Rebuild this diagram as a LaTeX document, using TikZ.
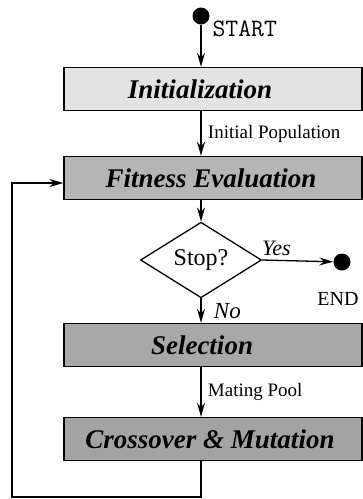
\documentclass[tikz,border=0pt]{standalone}
\usepackage{fontspec}
\setmainfont{Liberation Serif}
\usetikzlibrary{shapes.geometric,arrows.meta}
\tikzset{
  box/.style={draw,line width=1.4pt,minimum width=298pt,minimum height=43pt,inner sep=0pt},
  boxtext/.style={font=\fontsize{27}{27}\selectfont\bfseries\itshape},
  dot/.style={circle,fill=black,minimum size=17pt,inner sep=0pt},
  lbl/.style={font=\fontsize{19}{19}\selectfont},
  arr/.style={-{Stealth[length=14pt,width=8pt]},line width=1.3pt}
}
\begin{document}
\begin{tikzpicture}[x=1pt,y=-1pt]
\useasboundingbox (0,0) rectangle (363,499);
% start and end points
\node[dot] (start) at (201,16) {};
\node[font=\fontsize{25}{25}\selectfont\ttfamily,anchor=west] (starttxt) at (209,29) {START};
\node[dot] (end) at (342,262) {};
\node[font=\fontsize{20}{20}\selectfont] (endtxt) at (338,299) {END};
% the four stages
\node[box,fill=gray!22] (init) at (213,89) {};
\node[boxtext] (init-t) at (200,89) {Initialization};
\node[box,fill=gray!58] (fit) at (213,178) {};
\node[boxtext] (fit-t) at (211,178) {Fitness Evaluation};
\node[box,fill=gray!68] (sel) at (213,345) {};
\node[boxtext] (sel-t) at (202,345) {Selection};
\node[box,fill=gray!72] (cross) at (213,439) {};
\node[boxtext] (cross-t) at (210,439) {Crossover \& Mutation};
% decision
\node[draw,diamond,line width=1.3pt,minimum width=121pt,minimum height=37pt,inner sep=0pt,
  font=\fontsize{24}{24}\selectfont] (stop) at (201,260) {Stop?};
\coordinate (corner) at (12,497);
% connectors
\draw[arr] (start) -- (start |- init.north);
\draw[arr] (start |- init.south) -- node[lbl,right=3pt] {Initial Population} (start |- fit.north);
\draw[arr] (stop |- fit.south) -- (stop.north);
\draw[arr] (stop.east) -- node[above=1pt,pos=0.2,font=\fontsize{22}{22}\selectfont\itshape] {Yes} (end);
\draw[arr] (stop.south) -- node[right=9pt,font=\fontsize{23}{23}\selectfont\itshape] {No} (stop |- sel.north);
\draw[arr] (stop |- sel.south) -- node[lbl,right=3pt] {Mating Pool} (stop |- cross.north);
\draw[arr] (stop |- cross.south) |- (corner) |- ([yshift=-5pt]fit.west);
\end{tikzpicture}
\end{document}
